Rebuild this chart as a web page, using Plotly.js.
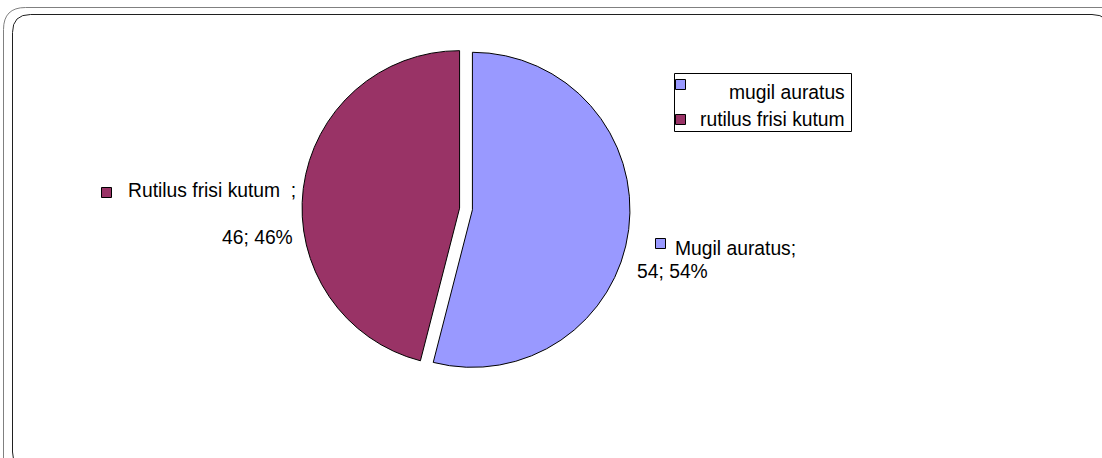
<!DOCTYPE html>
<html>
<head>
<meta charset="utf-8">
<script src="https://cdn.plot.ly/plotly-3.0.1.min.js"></script>
<style>
html,body{margin:0;padding:0;background:#fff;}
#chart{width:1102px;height:458px;}
</style>
</head>
<body>
<div id="chart"></div>
<script>
// ---- data ----
const categories = ["Mugil auratus", "Rutilus frisi kutum"];
const legendLabels = ["mugil auratus", "rutilus frisi kutum"];
const values = [54, 46];
const percents = [54, 46];
const sliceColors = ["#9999FF", "#993366"];

// ---- helpers (layout only) ----
const W = 1102, H = 458;
const fx = x => x / W;
const fy = y => 1 - y / H;

function roundRect(x0, y0, x1, y1, r) {
  return "M" + fx(x0) + "," + fy(y0 + r) +
    " Q" + fx(x0) + "," + fy(y0) + " " + fx(x0 + r) + "," + fy(y0) +
    " L" + fx(x1 - r) + "," + fy(y0) +
    " Q" + fx(x1) + "," + fy(y0) + " " + fx(x1) + "," + fy(y0 + r) +
    " L" + fx(x1) + "," + fy(y1 - r) +
    " Q" + fx(x1) + "," + fy(y1) + " " + fx(x1 - r) + "," + fy(y1) +
    " L" + fx(x0 + r) + "," + fy(y1) +
    " Q" + fx(x0) + "," + fy(y1) + " " + fx(x0) + "," + fy(y1 - r) + " Z";
}

const font = {family: "Liberation Sans, Arial, sans-serif", size: 19.3, color: "#000"};

const trace = {
  type: "pie",
  labels: categories,
  values: values,
  sort: false,
  direction: "clockwise",
  rotation: 0,
  pull: [0.041, 0.041],
  textinfo: "none",
  hoverinfo: "label+value+percent",
  marker: {colors: sliceColors, line: {color: "#000", width: 1}},
  domain: {x: [fx(302), fx(630)], y: [fy(373), fy(45)]},
  showlegend: false
};

const shapes = [
  {type: "path", xref: "paper", yref: "paper", path: roundRect(3.5, 7.5, 1130, 480, 22),
   line: {color: "#808080", width: 1}, fillcolor: "rgba(0,0,0,0)", layer: "below"},
  {type: "path", xref: "paper", yref: "paper", path: roundRect(12.5, 14.5, 1110, 470, 18),
   line: {color: "#202020", width: 1}, fillcolor: "rgba(0,0,0,0)", layer: "below"},
  // legend box
  {type: "rect", xref: "paper", yref: "paper", x0: fx(674.5), x1: fx(851.5), y0: fy(131.5), y1: fy(73.5),
   line: {color: "#000", width: 1}, fillcolor: "#fff", layer: "below"},
  // legend keys
  {type: "rect", xref: "paper", yref: "paper", x0: fx(675.5), x1: fx(685.5), y0: fy(89.5), y1: fy(79.5),
   line: {color: "#000", width: 1}, fillcolor: sliceColors[0]},
  {type: "rect", xref: "paper", yref: "paper", x0: fx(675.5), x1: fx(685.5), y0: fy(124.5), y1: fy(114.5),
   line: {color: "#000", width: 1}, fillcolor: sliceColors[1]},
  // data label keys
  {type: "rect", xref: "paper", yref: "paper", x0: fx(655.5), x1: fx(665.5), y0: fy(248.5), y1: fy(238.5),
   line: {color: "#000", width: 1}, fillcolor: sliceColors[0]},
  {type: "rect", xref: "paper", yref: "paper", x0: fx(101.5), x1: fx(111.5), y0: fy(197.5), y1: fy(187.5),
   line: {color: "#000", width: 1}, fillcolor: sliceColors[1]}
];

const ann = (text, x, y, anchor) => ({
  text: text, xref: "paper", yref: "paper", x: fx(x), y: fy(y),
  xanchor: anchor || "left", yanchor: "middle", showarrow: false, font: font
});

const annotations = [
  ann(legendLabels[0], 847, 93, "right"),
  ann(legendLabels[1], 847, 119, "right"),
  ann(categories[0] + ";", 673, 248),
  ann(values[0] + "; " + percents[0] + "%", 635, 271),
  ann(categories[1] + "  ;", 126, 191),
  ann(values[1] + "; " + percents[1] + "%", 295, 237, "right")
];

const layout = {
  width: W, height: H,
  margin: {l: 0, r: 0, t: 0, b: 0, pad: 0},
  paper_bgcolor: "#fff",
  plot_bgcolor: "#fff",
  showlegend: false,
  shapes: shapes,
  annotations: annotations,
  font: font
};

Plotly.newPlot("chart", [trace], layout, {displayModeBar: false, staticPlot: true});
</script>
</body>
</html>
